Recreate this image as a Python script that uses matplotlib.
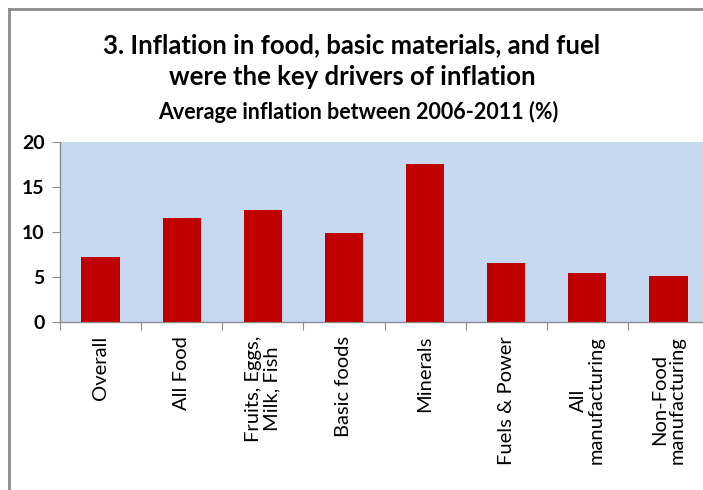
import matplotlib
matplotlib.use("Agg")
import matplotlib.pyplot as plt
from matplotlib.lines import Line2D

categories = ["Overall", "All Food", "Fruits, Eggs,\nMilk, Fish", "Basic foods",
              "Minerals", "Fuels & Power", "All\nmanufacturing", "Non-Food\nmanufacturing"]
values = [7.2, 11.55, 12.4, 9.9, 17.5, 6.6, 5.45, 5.15]
yticks = [0, 5, 10, 15, 20]

plt.rcParams['font.family'] = ['Lato', 'DejaVu Sans']

fig = plt.figure(figsize=(7.03, 4.90), dpi=100)
fig.patch.set_facecolor('white')

# outer frame (chart is cropped on right/bottom)
fx = 9 / 703
fy = 1 - 9 / 490
fig.add_artist(Line2D([fx, fx], [0, fy], transform=fig.transFigure,
                      color='#8c8c8c', linewidth=2.0))
fig.add_artist(Line2D([fx, 1.0], [fy, fy], transform=fig.transFigure,
                      color='#8c8c8c', linewidth=2.0))

ax = fig.add_axes([60/703, (490-322)/490, 649/703, 180/490])
ax.set_facecolor('#C6D9F1')
x = range(len(categories))
ax.bar(x, values, width=0.47, color='#C00000', zorder=3)
ax.set_xlim(-0.5, len(categories) - 0.5)
ax.set_ylim(0, 20)
ax.set_yticks(yticks)
ax.set_yticklabels([str(t) for t in yticks], fontsize=14, fontweight='bold')
ax.set_xticks([i + 0.5 for i in range(-1, len(categories))], minor=False)
ax.set_xticklabels([])
ax.set_xticks(list(x), minor=True)
ax.set_xticklabels(categories, minor=True, rotation=90, fontsize=14.5,
                   va='top', ha='center', multialignment='center', linespacing=1.05)
ax.tick_params(axis='x', which='minor', length=0, pad=10)
ax.tick_params(axis='x', which='major', length=6, color='#8c8c8c', direction='out')
ax.tick_params(axis='y', length=6, color='#8c8c8c', direction='out', pad=5)
for s in ['top', 'right']:
    ax.spines[s].set_visible(False)
for s in ['left', 'bottom']:
    ax.spines[s].set_color('#8c8c8c')
    ax.spines[s].set_linewidth(1.0)

fig.text(352/703, 1 - 45/490, "3. Inflation in food, basic materials, and fuel",
         ha='center', va='center', fontsize=18.5, fontweight='bold')
fig.text(352/703, 1 - 77/490, "were the key drivers of inflation",
         ha='center', va='center', fontsize=18.5, fontweight='bold')
fig.text(358/703, 1 - 112/490, "Average inflation between 2006-2011 (%)",
         ha='center', va='center', fontsize=15.5, fontweight='bold')

fig.savefig("out.png", dpi=100)
